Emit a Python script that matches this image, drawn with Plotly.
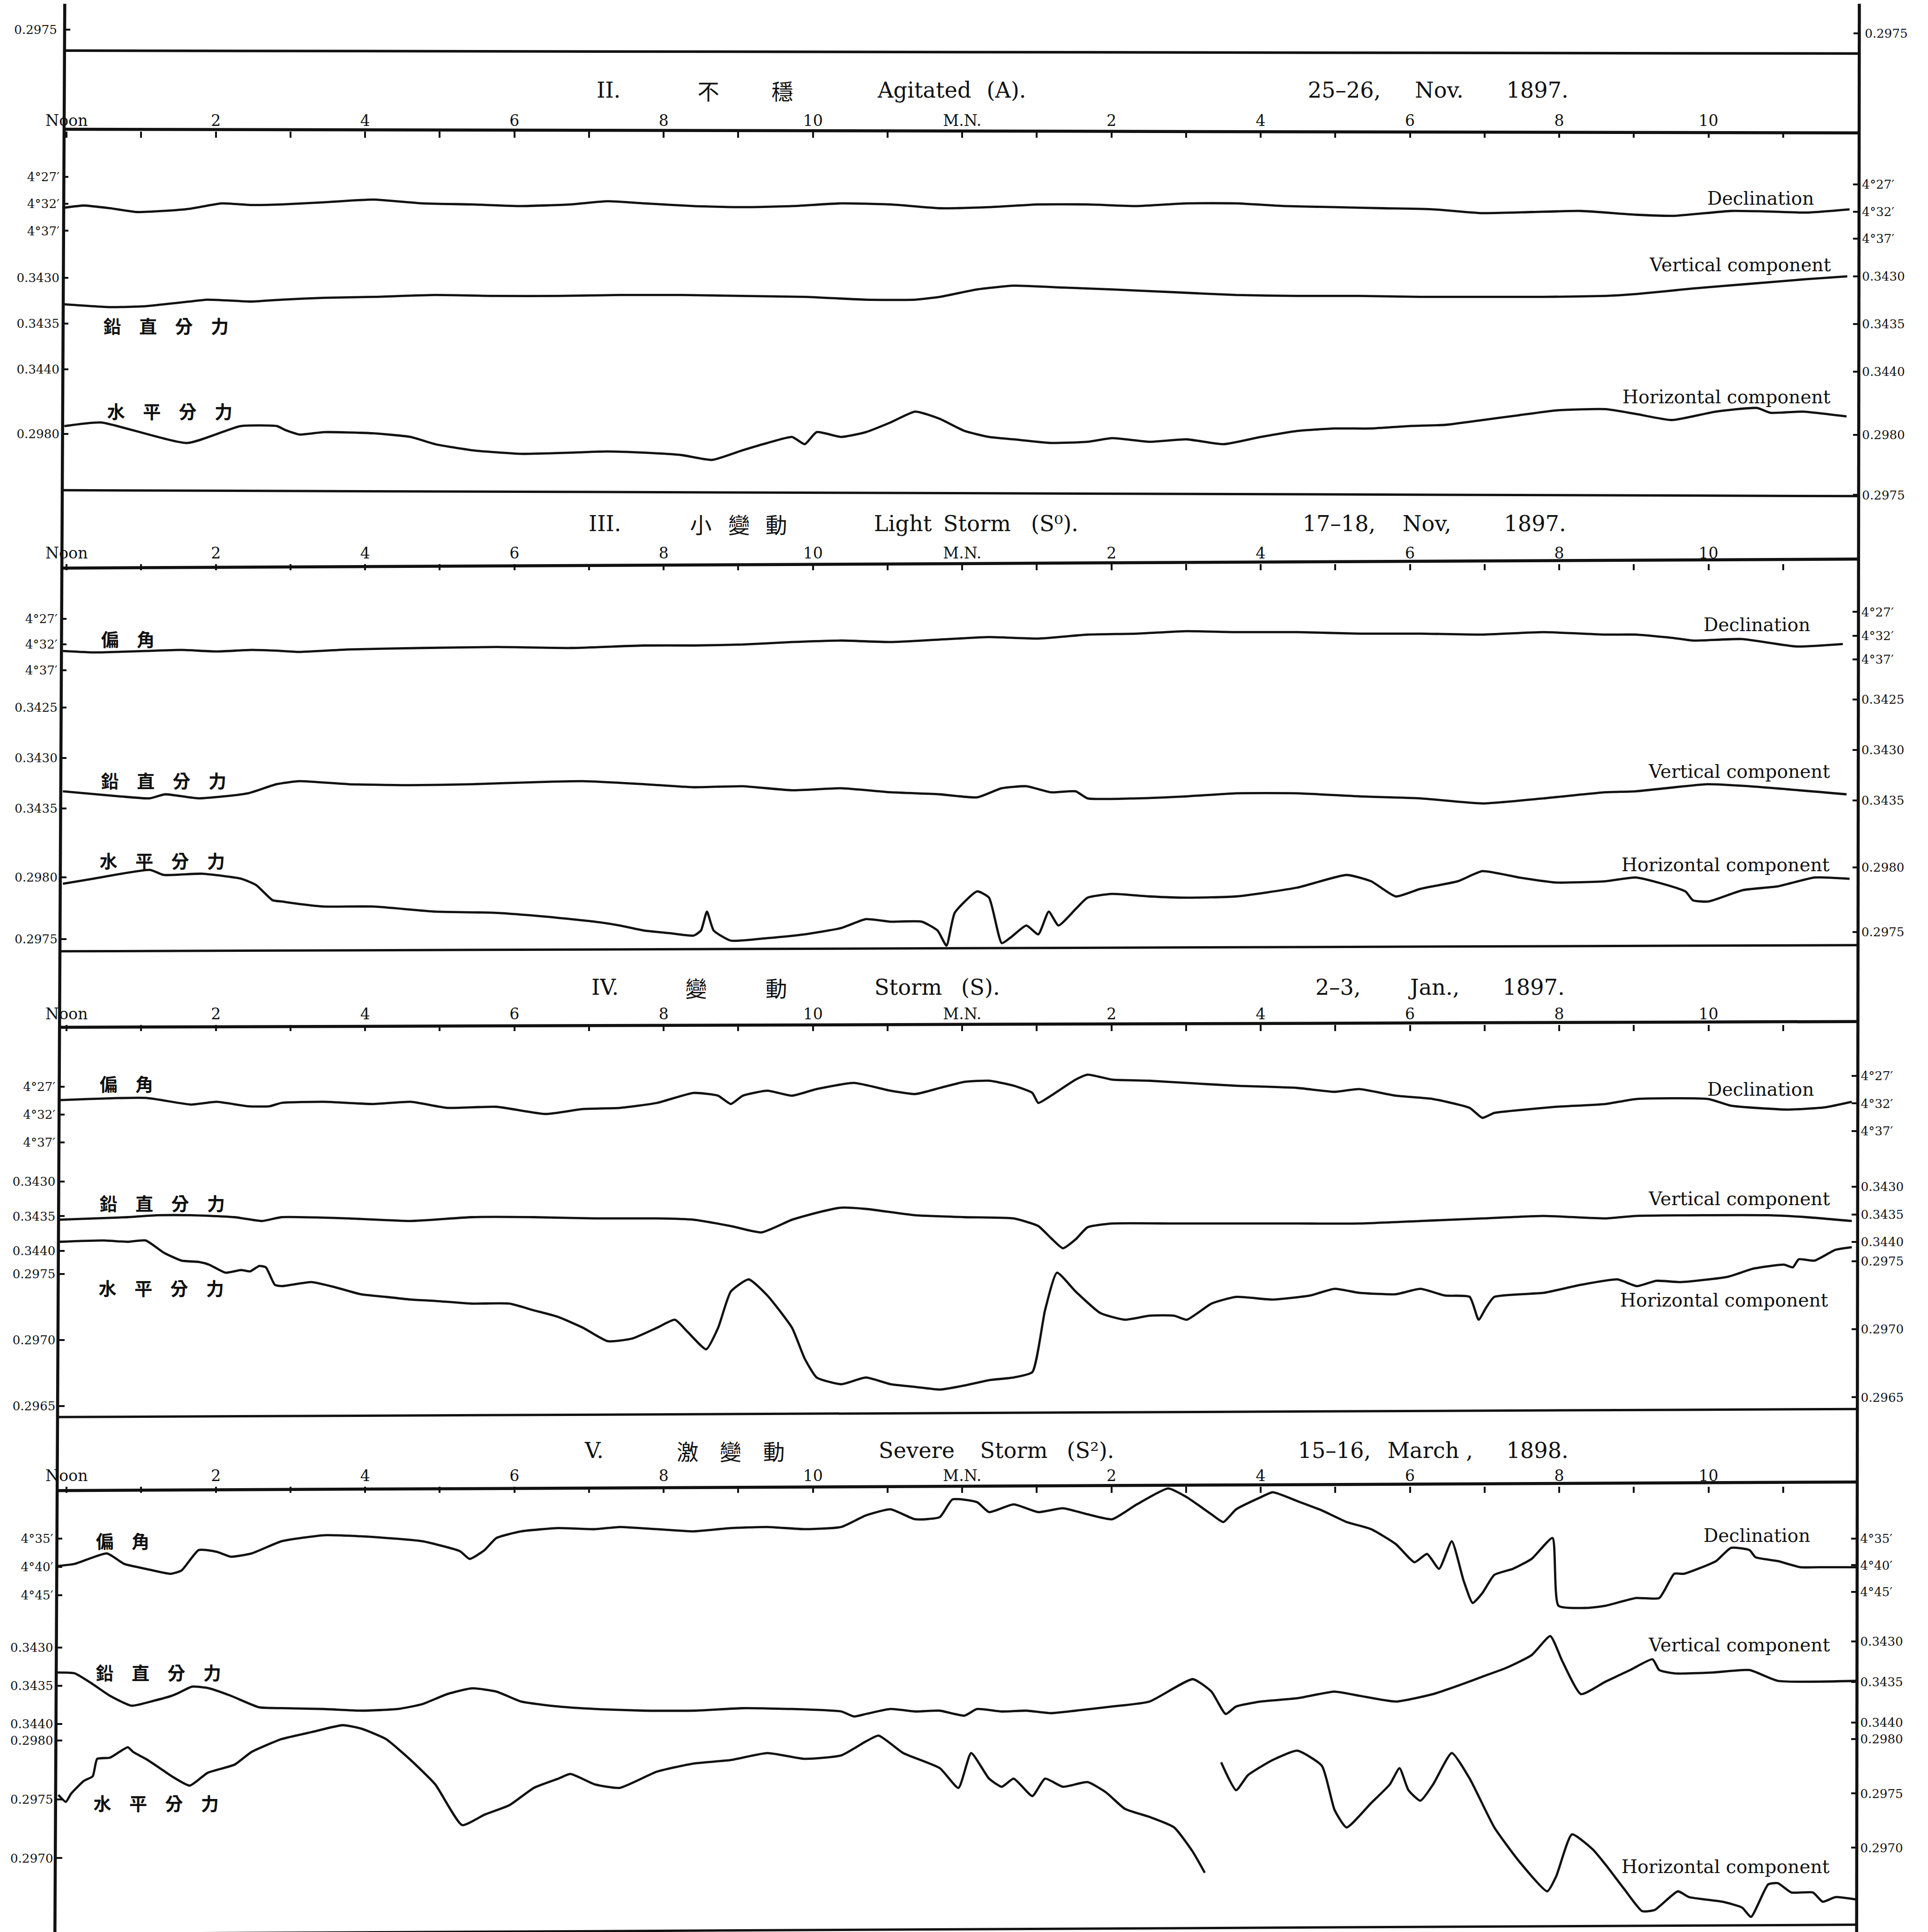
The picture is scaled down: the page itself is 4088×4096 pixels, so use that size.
import plotly.graph_objects as go

# ============================ DATA ============================
# time = hours after local noon (0 = Noon, 12 = midnight "M.N.")
# Declination in arc-minutes past 4 deg; vertical (V) and horizontal (H) force in C.G.S.

# ---- II. Agitated (A), 25-26 Nov 1897
ii_dec_t = [-0.03,0.23,0.58,0.94,1.30,1.65,2.08,2.46,2.89,3.45,4.11,4.77,5.43,6.09,6.75,7.25,7.74,8.40,9.06,9.72,10.38,11.04,11.70,12.36,13.02,13.68,14.34,15.01,15.67,16.33,16.99,17.65,18.31,18.97,19.63,20.29,21.03,21.54,22.30,22.80,23.31,23.89]
ii_dec = [32.0,31.6,32.1,32.8,32.6,32.2,31.2,31.5,31.4,31.0,30.5,31.2,31.4,31.7,31.4,30.8,31.2,31.7,31.9,31.7,31.2,31.4,32.1,31.9,31.4,31.4,31.7,31.2,31.2,31.7,31.9,32.1,32.3,33.0,32.8,32.6,33.3,33.5,32.6,32.7,32.9,32.3]
ii_ver_t = [-0.03,0.58,1.06,1.54,1.89,2.48,2.88,3.45,4.11,4.94,5.76,6.59,7.41,8.24,9.06,9.89,10.71,11.37,11.70,12.20,12.69,13.35,14.01,14.84,15.67,16.49,17.32,18.14,18.97,19.79,20.62,21.03,21.79,22.55,23.31,23.86]
ii_ver = [.34329,.34332,.34331,.34327,.34324,.34326,.34324,.34322,.34321,.34319,.34320,.34320,.34319,.34319,.34320,.34321,.34324,.34324,.34321,.34313,.34309,.34311,.34313,.34316,.34319,.34320,.34320,.34321,.34321,.34321,.34320,.34318,.34312,.34307,.34302,.34299]
ii_hor_t = [-0.03,0.46,1.62,2.33,2.82,2.92,3.12,3.45,4.11,4.61,4.94,5.43,6.09,6.75,7.25,7.74,8.24,8.65,9.06,9.39,9.72,9.89,10.05,10.38,10.71,11.04,11.37,11.70,12.03,12.36,12.69,13.19,13.68,14.01,14.51,15.01,15.50,16.00,16.49,16.99,17.48,17.98,18.47,18.97,19.46,19.96,20.62,21.03,21.51,22.10,22.65,22.83,23.26,23.85]
ii_hor = [.29807,.29810,.29793,.29807,.29807,.29804,.29800,.29802,.29801,.29798,.29792,.29787,.29784,.29785,.29786,.29785,.29783,.29779,.29787,.29793,.29798,.29792,.29802,.29798,.29802,.29810,.29819,.29813,.29803,.29798,.29796,.29793,.29794,.29797,.29794,.29796,.29792,.29798,.29803,.29805,.29805,.29807,.29808,.29812,.29816,.29820,.29821,.29817,.29812,.29819,.29822,.29818,.29819,.29815]

# ---- III. Light Storm (S0), 17-18 Nov 1897
iii_dec_t = [-0.05,0.39,1.06,1.54,2.01,2.48,2.88,3.12,3.78,4.77,5.76,6.75,7.74,8.40,9.06,9.72,10.38,11.04,11.70,12.36,13.02,13.68,14.34,15.01,15.67,16.49,17.32,18.14,18.97,19.79,20.62,21.03,21.54,21.79,22.45,23.18,23.80]
iii_dec = [34.2,34.5,34.2,34.0,34.3,34.0,34.2,34.4,33.9,33.6,33.4,33.6,33.1,33.1,32.9,32.4,32.1,32.4,31.9,31.4,31.7,30.9,30.7,30.2,30.4,30.4,30.7,30.7,30.9,30.4,30.9,30.9,31.6,32.1,31.8,33.3,32.8]
iii_ver_t = [-0.05,0.71,1.11,1.32,1.77,2.43,2.81,3.12,3.78,4.61,5.43,6.26,6.92,7.74,8.40,9.06,9.72,10.38,11.04,11.70,12.20,12.53,12.86,13.19,13.52,13.68,14.34,15.01,15.67,16.49,17.32,18.14,18.97,19.79,20.62,21.03,21.98,22.55,23.85]
iii_ver = [.34337,.34342,.34344,.34340,.34344,.34339,.34330,.34327,.34330,.34331,.34330,.34328,.34327,.34330,.34333,.34332,.34336,.34334,.34338,.34340,.34343,.34334,.34332,.34338,.34337,.34344,.34344,.34342,.34339,.34339,.34342,.34344,.34349,.34344,.34338,.34337,.34330,.34332,.34340]
iii_hor_t = [-0.05,0.35,1.12,1.30,1.82,2.34,2.54,2.76,2.88,3.12,3.45,4.11,4.94,5.76,6.42,7.08,7.41,7.74,8.07,8.40,8.50,8.58,8.67,8.90,9.39,9.89,10.38,10.71,11.04,11.46,11.67,11.79,11.90,12.20,12.36,12.53,12.66,12.86,13.02,13.16,13.29,13.52,13.68,14.01,14.51,15.01,15.67,16.49,17.15,17.48,17.81,18.14,18.64,18.97,19.46,19.96,20.62,21.03,21.69,21.79,22.00,22.46,22.93,23.42,23.89]
iii_hor = [.29791,.29795,.29802,.29798,.29799,.29795,.29790,.29778,.29777,.29775,.29773,.29773,.29769,.29768,.29765,.29761,.29758,.29754,.29752,.29750,.29754,.29769,.29754,.29746,.29748,.29751,.29756,.29763,.29761,.29761,.29754,.29742,.29768,.29785,.29780,.29744,.29749,.29758,.29751,.29769,.29758,.29771,.29780,.29783,.29781,.29780,.29781,.29788,.29798,.29793,.29781,.29787,.29793,.29801,.29796,.29792,.29793,.29796,.29785,.29778,.29777,.29786,.29789,.29796,.29795]

# ---- IV. Storm (S), 2-3 Jan 1897
iv_dec_t = [-0.10,1.06,1.67,2.01,2.43,2.72,2.88,3.45,4.11,4.61,5.10,5.76,6.42,6.92,7.41,7.91,8.40,8.73,8.90,9.06,9.39,9.72,10.05,10.55,11.04,11.37,11.70,12.03,12.36,12.69,12.94,13.02,13.19,13.52,13.68,14.01,14.51,15.01,15.67,16.49,16.99,17.32,17.81,18.31,18.80,18.97,19.13,19.46,19.96,20.62,21.03,22.00,22.30,23.06,23.56,23.92]
iv_dec = [30.4,30.0,31.2,30.7,31.5,31.5,30.9,30.7,31.1,30.7,31.8,31.6,32.9,32.0,31.8,30.9,29.1,29.6,31.1,29.6,28.7,29.6,28.4,27.3,28.7,29.3,28.2,27.1,26.9,27.8,29.1,30.9,29.6,26.7,25.8,26.7,26.9,27.3,27.8,28.2,28.9,28.4,29.6,30.2,31.8,33.6,32.7,32.2,31.6,31.1,30.2,30.2,31.4,32.1,31.7,30.7]
iv_ver_t = [-0.10,0.82,1.22,1.67,2.25,2.62,2.88,3.78,4.61,5.43,6.26,7.08,7.91,8.40,8.90,9.31,9.72,10.05,10.38,10.71,11.37,12.03,12.69,13.02,13.19,13.35,13.52,13.68,14.01,14.84,15.67,16.49,17.32,18.14,18.97,19.79,20.62,21.03,22.80,23.31,23.92]
iv_ver = [.34356,.34352,.34349,.34349,.34352,.34358,.34352,.34354,.34358,.34352,.34352,.34354,.34354,.34356,.34366,.34376,.34356,.34345,.34337,.34339,.34349,.34352,.34354,.34366,.34385,.34401,.34387,.34368,.34362,.34362,.34362,.34362,.34362,.34358,.34354,.34350,.34354,.34350,.34349,.34352,.34358]
iv_hor_t = [-0.10,0.49,0.82,1.06,1.30,1.54,1.77,1.91,2.13,2.34,2.46,2.58,2.67,2.79,2.88,
            3.28,3.61,3.94,4.28,4.61,4.94,5.43,5.93,6.26,6.59,6.92,7.25,7.58,7.91,8.15,8.32,8.57,8.73,8.90,9.14,9.39,9.72,9.89,10.05,10.38,10.71,11.04,11.37,11.70,12.03,12.36,12.69,12.94,13.11,13.27,13.52,13.85,14.18,14.51,14.84,15.01,15.34,15.67,16.16,16.66,16.99,17.32,17.81,18.14,18.47,18.80,18.92,19.02,19.13,19.79,20.29,20.78,
            21.04,21.30,21.63,22.26,22.60,23.01,23.13,23.21,23.42,23.70,23.92]
iv_hor = [.29769,.29770,.29769,.29770,.29761,.29755,.29754,.29752,.29746,.29748,.29747,.29751,.29750,.29737,.29736,
          .29739,.29735,.29730,.29728,.29726,.29725,.29723,.29723,.29718,.29713,.29705,.29695,.29697,.29705,.29711,.29702,.29689,.29705,.29732,.29741,.29729,.29705,.29682,.29668,.29663,.29668,.29663,.29661,.29659,.29662,.29666,.29668,.29672,.29718,.29746,.29732,.29716,.29711,.29714,.29714,.29711,.29723,.29728,.29726,.29729,.29734,.29731,.29730,.29734,.29729,.29728,.29711,.29720,.29728,.29731,.29737,.29741,
          .29736,.29740,.29739,.29743,.29749,.29752,.29750,.29756,.29755,.29763,.29765]

# ---- V. Severe Storm (S2), 15-16 March 1898
v_dec_t = [-0.13,0.11,0.54,0.77,1.06,1.39,1.54,1.77,2.01,2.20,2.48,2.88,
           3.45,3.95,4.28,4.77,5.27,5.40,5.60,5.76,6.09,6.59,7.08,7.41,7.91,8.40,8.90,9.39,9.89,10.38,10.71,11.04,11.37,11.70,11.87,12.20,12.36,12.69,13.02,13.35,13.68,14.01,14.34,14.76,15.01,15.34,15.50,15.67,16.00,16.16,16.49,16.82,17.15,17.48,17.81,18.06,18.23,18.39,18.56,18.72,18.84,18.97,19.13,19.38,19.63,19.91,19.99,20.37,20.62,
           21.03,21.34,21.54,21.67,22.10,22.30,22.55,22.63,22.93,23.23,23.56,23.99]
v_dec = [40.0,39.6,37.7,39.6,40.5,41.4,40.8,37.1,37.4,38.3,37.7,35.5,
         34.4,34.6,34.9,35.5,37.3,38.7,37.1,34.9,33.7,33.1,33.3,32.9,33.3,33.7,33.1,32.9,33.3,32.9,30.8,29.7,31.5,31.1,27.9,28.4,30.2,28.8,30.2,29.5,30.6,31.5,28.8,25.9,27.5,30.6,32.0,29.7,27.5,26.6,28.2,29.9,32.0,33.3,36.0,39.3,37.8,40.5,35.5,42.7,46.7,44.9,41.6,40.5,38.7,34.9,47.2,47.6,47.2,
         45.8,45.8,41.4,41.4,39.1,36.7,37.1,38.4,39.1,40.2,40.2,40.2]
v_ver_t = [-0.13,0.11,0.35,0.58,0.87,1.17,1.41,1.49,1.68,1.91,2.20,2.58,2.88,
           3.45,3.95,4.44,4.77,5.10,5.43,5.76,6.09,6.59,7.08,7.74,8.40,9.06,9.72,10.38,10.55,10.71,11.04,11.37,11.70,12.03,12.20,12.53,12.86,13.19,13.52,14.01,14.51,15.09,15.34,15.53,15.67,16.00,16.49,16.99,17.32,17.81,18.31,18.64,18.97,19.30,19.63,19.88,20.04,20.29,20.62,20.95,
           21.25,21.34,21.54,22.05,22.55,22.93,23.99]
v_ver = [.34334,.34335,.34348,.34362,.34374,.34368,.34362,.34359,.34351,.34353,.34362,.34376,.34377,
         .34378,.34380,.34378,.34372,.34360,.34353,.34357,.34369,.34375,.34378,.34380,.34380,.34377,.34378,.34381,.34387,.34384,.34378,.34381,.34380,.34386,.34378,.34381,.34380,.34383,.34380,.34375,.34369,.34342,.34357,.34384,.34375,.34369,.34365,.34357,.34362,.34369,.34360,.34350,.34339,.34328,.34313,.34290,.34320,.34360,.34345,.34331,
         .34318,.34331,.34335,.34334,.34331,.34344,.34344]
# horizontal force in two pieces: the trace runs off the sheet after ~3 a.m.
v_hor_a_t = [-0.11,-0.01,0.06,0.23,0.35,0.41,0.58,0.82,0.89,1.06,1.25,1.41,1.65,1.89,2.25,2.48,2.88,
             3.28,3.70,3.95,4.28,4.61,4.94,5.30,5.60,5.93,6.26,6.59,6.75,7.08,7.41,7.91,8.40,8.90,9.39,9.89,10.38,10.71,10.88,11.21,11.70,11.95,12.12,12.36,12.53,12.69,12.94,13.11,13.35,13.68,13.93,14.18,14.51,14.84,15.09,15.25]
v_hor_a = [.29750,.29744,.29751,.29762,.29766,.29781,.29782,.29791,.29787,.29781,.29773,.29766,.29758,.29769,.29776,.29787,.29798,
           .29804,.29810,.29807,.29798,.29780,.29759,.29724,.29733,.29741,.29756,.29764,.29768,.29759,.29756,.29770,.29777,.29780,.29786,.29781,.29784,.29796,.29801,.29786,.29773,.29756,.29786,.29764,.29757,.29764,.29749,.29764,.29757,.29761,.29752,.29738,.29731,.29722,.29701,.29683]
v_hor_b_t = [15.47,15.67,15.83,16.16,16.49,16.82,16.99,17.15,17.48,17.73,17.86,17.98,18.14,18.31,18.56,18.80,19.13,19.46,19.84,19.96,20.17,20.45,20.62,20.87,21.11,21.28,21.59,21.74,22.19,22.45,22.57,22.80,22.93,23.11,23.40,23.53,23.70,23.97]
v_hor_b = [.29778,.29754,.29767,.29780,.29788,.29775,.29737,.29722,.29743,.29759,.29773,.29754,.29745,.29759,.29786,.29764,.29722,.29693,.29667,.29680,.29716,.29703,.29690,.29669,.29650,.29651,.29667,.29662,.29658,.29653,.29645,.29673,.29674,.29666,.29666,.29658,.29662,.29660]

# ---- tick values / labels
hour_ticks = list(range(24))
hour_labels = ['Noon', '', '2', '', '4', '', '6', '', '8', '', '10', '',
               'M.N.', '', '2', '', '4', '', '6', '', '8', '', '10', '']
dec_ticks_a = [27, 32, 37]
dec_ticks_b = [35, 40, 45]
ver_ticks_a = [0.3430, 0.3435, 0.3440]
ver_ticks_b = [0.3425, 0.3430, 0.3435]

# ============================ LAYOUT ============================
RW, RH = 1565.0, 1568.0          # layout frame (shrunk reference units)
W, H = 4088, 4096
X0, XS = 51.0, 60.58              # frame x of Noon, frame px per hour
SERIF = "DejaVu Serif"
CJK = "Noto Sans CJK TC"
INK = "#111111"
LW = 4.8
TICKFONT = 26


def fx(x):
    return x / RW


def fy(y):
    return 1.0 - y / RH


def lin_range(anc, ybot, ytop):
    (v1, y1), (v2, y2) = anc
    k = (v2 - v1) / (y2 - y1)
    return [v1 + (ybot - y1) * k, v1 + (ytop - y1) * k]


def dec_label(v):
    return "4°%d′" % v


def cgs_label(v):
    return "%.4f" % v


panels = [
    dict(top=39, bot=400, axis=103.3, L=47.9, R=1505.7,
         series=[
             dict(t=ii_dec_t, v=ii_dec, avg=((27, 143.5), (37, 187.5)),
                  left=((27, 140.4), (37, 184.3)), right=((27, 146.7), (37, 190.6)),
                  lt=dec_ticks_a, rt=dec_ticks_a, fmt=dec_label),
             dict(t=ii_ver_t, v=ii_ver, avg=((0.3430, 222.0), (0.3440, 297.6)),
                  left=((0.3430, 222.4), (0.3440, 296.7)), right=((0.3430, 221.4), (0.3440, 298.6)),
                  lt=ver_ticks_a, rt=ver_ticks_a, fmt=cgs_label),
             dict(t=ii_hor_t, v=ii_hor, avg=((0.2980, 349.6), (0.2975, 398.6)),
                  left=((0.2980, 349.2), (0.2975, 398.2)), right=((0.2980, 350.0), (0.2975, 398.7)),
                  lt=[0.2980], rt=[0.2980, 0.2975], fmt=cgs_label),
         ]),
    dict(top=397, bot=768, axis=454.4, L=46.3, R=1505.2,
         series=[
             dict(t=iii_dec_t, v=iii_dec, avg=((27, 496.3), (37, 536.5)),
                  left=((27, 499.0), (37, 541.0)), right=((27, 493.6), (37, 532.0)),
                  lt=dec_ticks_a, rt=dec_ticks_a, fmt=dec_label),
             dict(t=iii_ver_t, v=iii_ver, avg=((0.3425, 567.75), (0.3435, 649.8)),
                  left=((0.3425, 571.0), (0.3435, 653.0)), right=((0.3425, 564.5), (0.3435, 646.6)),
                  lt=ver_ticks_b, rt=ver_ticks_b, fmt=cgs_label),
             dict(t=iii_hor_t, v=iii_hor, avg=((0.2980, 705.0), (0.2975, 756.25)),
                  left=((0.2980, 709.0), (0.2975, 759.0)), right=((0.2980, 701.0), (0.2975, 753.5)),
                  lt=[0.2980, 0.2975], rt=[0.2980, 0.2975], fmt=cgs_label),
         ]),
    dict(top=766, bot=1146, axis=828.4, L=44.6, R=1504.7,
         series=[
             dict(t=iv_dec_t, v=iv_dec, avg=((27, 874.5), (37, 919.5)),
                  left=((27, 879.0), (37, 924.0)), right=((27, 870.0), (37, 915.0)),
                  lt=dec_ticks_a, rt=dec_ticks_a, fmt=dec_label),
             dict(t=iv_ver_t, v=iv_ver, avg=((0.3430, 958.0), (0.3440, 1009.5)),
                  left=((0.3430, 956.0), (0.3440, 1012.0)), right=((0.3430, 960.0), (0.3440, 1005.0)),
                  lt=ver_ticks_a, rt=ver_ticks_a, fmt=cgs_label),
             dict(t=iv_hor_t, v=iv_hor, avg=((0.2975, 1025.5), (0.2965, 1134.5)),
                  left=((0.2975, 1031.0), (0.2965, 1138.0)), right=((0.2975, 1020.5), (0.2965, 1131.0)),
                  lt=[0.2975, 0.2970, 0.2965], rt=[0.2975, 0.2970, 0.2965], fmt=cgs_label),
         ]),
    dict(top=1143, bot=1568, axis=1203.2, L=42.8, R=1504.2,
         series=[
             dict(t=v_dec_t, v=v_dec, avg=((35, 1245.6), (45, 1290.3)),
                  left=((35, 1245.6), (45, 1291.6)), right=((35, 1245.6), (45, 1289.0)),
                  lt=dec_ticks_b, rt=dec_ticks_b, fmt=dec_label),
             dict(t=v_ver_t, v=v_ver, avg=((0.3430, 1331.5), (0.3440, 1398.75)),
                  left=((0.3430, 1334.0), (0.3440, 1396.0)), right=((0.3430, 1329.0), (0.3440, 1395.0)),
                  lt=ver_ticks_a, rt=ver_ticks_a, fmt=cgs_label),
             dict(t=v_hor_a_t + [None] + v_hor_b_t, v=v_hor_a + [None] + v_hor_b,
                  avg=((0.2980, 1406.5), (0.2970, 1500.8)),
                  left=((0.2980, 1409.5), (0.2970, 1505.0)), right=((0.2980, 1408.5), (0.2970, 1496.6)),
                  lt=[0.2980, 0.2975, 0.2970], rt=[0.2980, 0.2975, 0.2970], fmt=cgs_label),
         ]),
]

fig = go.Figure()
lay = {}
ycount = [0]


def next_y():
    ycount[0] += 1
    n = ycount[0]
    return ("y" if n == 1 else "y%d" % n), ("yaxis" if n == 1 else "yaxis%d" % n)


for i, p in enumerate(panels):
    xn = "x" if i == 0 else "x%d" % (i + 1)
    xk = "xaxis" if i == 0 else "xaxis%d" % (i + 1)
    lay[xk] = dict(
        domain=[fx(p["L"]), fx(p["R"])],
        range=[(p["L"] - X0) / XS, (p["R"] - X0) / XS],
        anchor="free", position=fy(p["axis"]), side="top",
        showline=False, showgrid=False, zeroline=False, automargin=False,
        tickmode="array", tickvals=hour_ticks, ticktext=hour_labels,
        ticks="inside", ticklen=13, tickwidth=3.5, tickcolor=INK,
        ticklabelstandoff=4,
        tickfont=dict(family=SERIF, size=33, color=INK),
    )
    dom = [fy(p["bot"]), fy(p["top"])]
    base = None
    for s in p["series"]:
        # tick-label axes (left and right edge of the sheet)
        for side, anc, tv in (("left", s["left"], s["lt"]), ("right", s["right"], s["rt"])):
            yn2, yk2 = next_y()
            ax = dict(
                anchor=xn, side=side,
                range=lin_range(anc, p["bot"], p["top"]),
                tickmode="array", tickvals=tv, ticktext=[s["fmt"](v) for v in tv],
                ticks="inside", ticklen=12, tickwidth=4, tickcolor=INK,
                ticklabelstandoff=6,
                showline=False, showgrid=False, zeroline=False, automargin=False,
                tickfont=dict(family=SERIF, size=TICKFONT, color=INK),
            )
            if base is None:
                ax["domain"] = dom
                base = yn2
            else:
                ax["overlaying"] = base
            lay[yk2] = ax
            # invisible anchor point so the label axis is laid out
            fig.add_trace(go.Scatter(x=[12], y=[tv[0]], xaxis=xn, yaxis=yn2, mode="markers",
                                     marker=dict(size=1, opacity=0), hoverinfo="skip",
                                     showlegend=False))
        # data axis for the curve
        yn, yk = next_y()
        lay[yk] = dict(range=lin_range(s["avg"], p["bot"], p["top"]), anchor=xn,
                       overlaying=base, visible=False, automargin=False,
                       showgrid=False, zeroline=False)
        fig.add_trace(go.Scatter(x=s["t"], y=s["v"], xaxis=xn, yaxis=yn, mode="lines",
                                 line=dict(color=INK, width=LW, shape="spline", smoothing=0.5),
                                 connectgaps=False, hoverinfo="skip", showlegend=False))


def seg(x0, y0, x1, y1, w):
    return dict(type="line", xref="paper", yref="paper", x0=fx(x0), y0=fy(y0),
                x1=fx(x1), y1=fy(y1), line=dict(color=INK, width=w))


shapes = [
    seg(49.5, 0, 41.5, 1568, 6.5),          # left frame
    seg(1506.2, 0, 1504.0, 1568, 6.5),      # right frame
    seg(49, 38, 1506, 40.4, 5.5),           # bottom of sheet I
    seg(48, 394.8, 1505.7, 399.6, 5),       # bottom of II
    seg(46.3, 769, 1505.2, 764, 5),         # bottom of III
    seg(44.6, 1147, 1504.7, 1140.5, 5),     # bottom of IV
    seg(42, 1566.5, 1504, 1559, 5),         # bottom of V
    seg(47.9, 101.8, 1505.7, 104.8, 6.5),   # time axes
    seg(46.3, 458.0, 1505.2, 450.7, 6.5),
    seg(44.6, 830.7, 1504.7, 826.0, 6.5),
    seg(42.8, 1206.7, 1504.2, 1199.7, 6.5),
    seg(49.3, 21, 54, 21, 4),               # sheet I ticks
    seg(1501.5, 24, 1506.2, 24, 4),
]

ann = []


def txt(s, x, y, size, fam=SERIF, xa="center"):
    ann.append(dict(text=s, x=fx(x), y=fy(y), xref="paper", yref="paper", showarrow=False,
                    xanchor=xa, yanchor="middle", font=dict(family=fam, size=size, color=INK)))


# sheet I remnant labels
txt("0.2975", 44, 21, TICKFONT, xa="right")
txt("0.2975", 1510, 24, TICKFONT, xa="left")

HEAD = 46
headers = [
    (70, [("II.", 491, SERIF), ("不", 572, CJK), ("穩", 632, CJK), ("Agitated", 747, SERIF),
          ("(A).", 814, SERIF), ("25–26,", 1088, SERIF), ("Nov.", 1165, SERIF), ("1897.", 1245, SERIF)]),
    (422, [("III.", 488, SERIF), ("小", 566, CJK), ("變", 597, CJK), ("動", 627, CJK),
           ("Light", 730, SERIF), ("Storm", 790, SERIF), ("(S⁰).", 853, SERIF),
           ("17–18,", 1084, SERIF), ("Nov,", 1155, SERIF), ("1897.", 1243, SERIF)]),
    (798, [("IV.", 488, SERIF), ("變", 562, CJK), ("動", 627, CJK), ("Storm", 734, SERIF),
           ("(S).", 793, SERIF), ("2–3,", 1083, SERIF), ("Jan.,", 1161, SERIF), ("1897.", 1242, SERIF)]),
    (1174, [("V.", 479, SERIF), ("激", 555, CJK), ("變", 590, CJK), ("動", 625, CJK),
            ("Severe", 741, SERIF), ("Storm", 820, SERIF), ("(S²).", 882, SERIF),
            ("15–16,", 1080, SERIF), ("March ,", 1158, SERIF), ("1898.", 1245, SERIF)]),
]
for y, items in headers:
    for s, x, fam in items:
        txt(s, x, y, HEAD, fam)

LAB = 39
CJ = 38
CJB = "<b>%s</b>"
labels = [
    # (text, x, y, font, size, anchor)
    (CJB % "鉛　直　分　力", 80, 261, CJK, CJ, "left"), (CJB % "水　平　分　力", 83, 330, CJK, CJ, "left"),
    ("Declination", 1470, 158, SERIF, LAB, "right"), ("Vertical component", 1484, 212, SERIF, LAB, "right"),
    ("Horizontal component", 1484, 319, SERIF, LAB, "right"),
    (CJB % "偏　角", 78, 515, CJK, CJ, "left"), (CJB % "鉛　直　分　力", 78, 630, CJK, CJ, "left"),
    (CJB % "水　平　分　力", 77, 695, CJK, CJ, "left"),
    ("Declination", 1467, 504, SERIF, LAB, "right"), ("Vertical component", 1483, 623, SERIF, LAB, "right"),
    ("Horizontal component", 1483, 699, SERIF, LAB, "right"),
    (CJB % "偏　角", 77, 876, CJK, CJ, "left"), (CJB % "鉛　直　分　力", 77, 973, CJK, CJ, "left"),
    (CJB % "水　平　分　力", 76, 1042, CJK, CJ, "left"),
    ("Declination", 1470, 881, SERIF, LAB, "right"), ("Vertical component", 1483, 970, SERIF, LAB, "right"),
    ("Horizontal component", 1482, 1052, SERIF, LAB, "right"),
    (CJB % "偏　角", 74, 1247, CJK, CJ, "left"), (CJB % "鉛　直　分　力", 74, 1354, CJK, CJ, "left"),
    (CJB % "水　平　分　力", 72, 1460, CJK, CJ, "left"),
    ("Declination", 1467, 1243, SERIF, LAB, "right"), ("Vertical component", 1483, 1332, SERIF, LAB, "right"),
    ("Horizontal component", 1483, 1512, SERIF, LAB, "right"),
]
for s, x, y, fam, size, xa in labels:
    txt(s, x, y, size, fam, xa)

fig.update_layout(
    template="none",
    width=W, height=H,
    margin=dict(l=0, r=0, t=0, b=0, pad=0),
    paper_bgcolor="white", plot_bgcolor="rgba(0,0,0,0)",
    showlegend=False, hovermode=False,
    shapes=shapes, annotations=ann,
    **lay,
)

fig.write_html("out.html")
